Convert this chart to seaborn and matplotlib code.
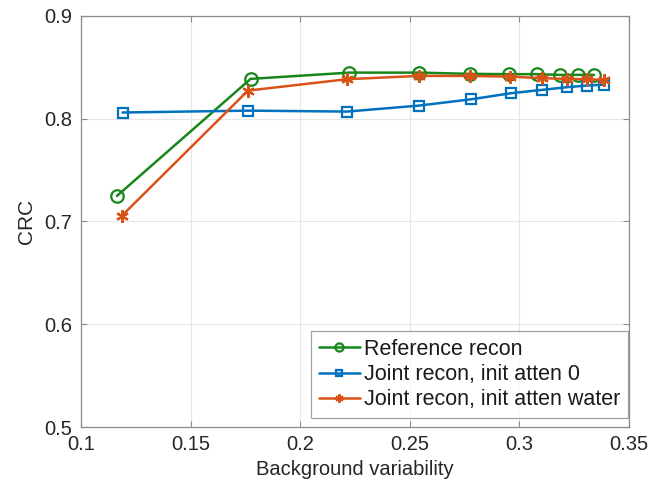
import numpy as np
import pandas as pd
import matplotlib
matplotlib.use("Agg")
import matplotlib.pyplot as plt
import seaborn as sns


# values
REF_X = [0.1164, 0.1774, 0.2224, 0.2542, 0.2774, 0.2951, 0.3080, 0.3186, 0.3270, 0.3341]
REF_Y = [0.7248, 0.8387, 0.8448, 0.8448, 0.8436, 0.8433, 0.8433, 0.8426, 0.8426, 0.8426]

ZERO_X = [0.1190, 0.1762, 0.2214, 0.2542, 0.2782, 0.2964, 0.3103, 0.3217, 0.3308, 0.3386]
ZERO_Y = [0.8060, 0.8078, 0.8069, 0.8127, 0.8189, 0.8248, 0.8280, 0.8306, 0.8322, 0.8331]

WATER_X = [0.1186, 0.1762, 0.2214, 0.2542, 0.2774, 0.2959, 0.3103, 0.3217, 0.3308, 0.3386]
WATER_Y = [0.7054, 0.8273, 0.8384, 0.8416, 0.8416, 0.8409, 0.8394, 0.8387, 0.8384, 0.8377]

LABELS = ["Reference recon", "Joint recon, init atten 0", "Joint recon, init atten water"]
X_TICKS = [0.1, 0.15, 0.2, 0.25, 0.3, 0.35]
X_TICK_LABELS = ["0.1", "0.15", "0.2", "0.25", "0.3", "0.35"]
Y_TICKS = [0.5, 0.6, 0.7, 0.8, 0.9]
Y_TICK_LABELS = ["0.5", "0.6", "0.7", "0.8", "0.9"]

# matlab-ish colours
GREEN = "#17871a"
BLUE = "#0072BD"
ORANGE = "#D95319"

sns.set_style("white")
plt.rcParams["font.family"] = ["Liberation Sans", "DejaVu Sans"]

fig = plt.figure(figsize=(6.69, 4.96), dpi=100)
ax = fig.add_axes([0.121, 0.139, 0.819, 0.829])

series = [
    (REF_X, REF_Y, GREEN, "o", 9, LABELS[0]),
    (ZERO_X, ZERO_Y, BLUE, "s", 7.5, LABELS[1]),
    (WATER_X, WATER_Y, ORANGE, (6, 2, 0), 9, LABELS[2]),
]
for xs, ys, color, marker, msize, label in series:
    df = pd.DataFrame({"x": xs, "y": ys})
    sns.lineplot(data=df, x="x", y="y", ax=ax, sort=False, color=color,
                 marker=marker, markersize=msize, markerfacecolor="none",
                 markeredgecolor=color, markeredgewidth=1.6, linewidth=1.8,
                 label=label)

ax.set_xlim(0.1, 0.35)
ax.set_ylim(0.5, 0.9)
ax.set_xticks(X_TICKS, X_TICK_LABELS)
ax.set_yticks(Y_TICKS, Y_TICK_LABELS)
ax.grid(True, color="#e6e6e6", linewidth=0.8)
ax.set_axisbelow(True)

for side in ["left", "right", "top", "bottom"]:
    ax.spines[side].set_visible(True)
    ax.spines[side].set_color("#8c8c8c")
    ax.spines[side].set_linewidth(0.9)

ax.tick_params(direction="in", length=4, width=0.8, color="#8c8c8c",
               labelsize=14.5, labelcolor="#262626", top=True, right=True,
               bottom=True, left=True, pad=6)

ax.set_xlabel("Background variability", fontsize=14.5, color="#262626", labelpad=4)
ax.set_ylabel("CRC", fontsize=15, color="#262626", labelpad=6)

# legend box sits just inside the lower right corner
leg = ax.legend(loc="lower right", bbox_to_anchor=(0.998, 0.022), fontsize=15.5,
                frameon=True, fancybox=False, borderaxespad=0, borderpad=0.35,
                handlelength=1.9, handletextpad=0.2, labelspacing=0.2,
                markerscale=0.65)
leg.get_frame().set_edgecolor("#8c8c8c")
leg.get_frame().set_linewidth(0.9)
for text in leg.get_texts():
    text.set_color("#1a1a1a")

fig.savefig("out.png", dpi=100)
plt.close(fig)
